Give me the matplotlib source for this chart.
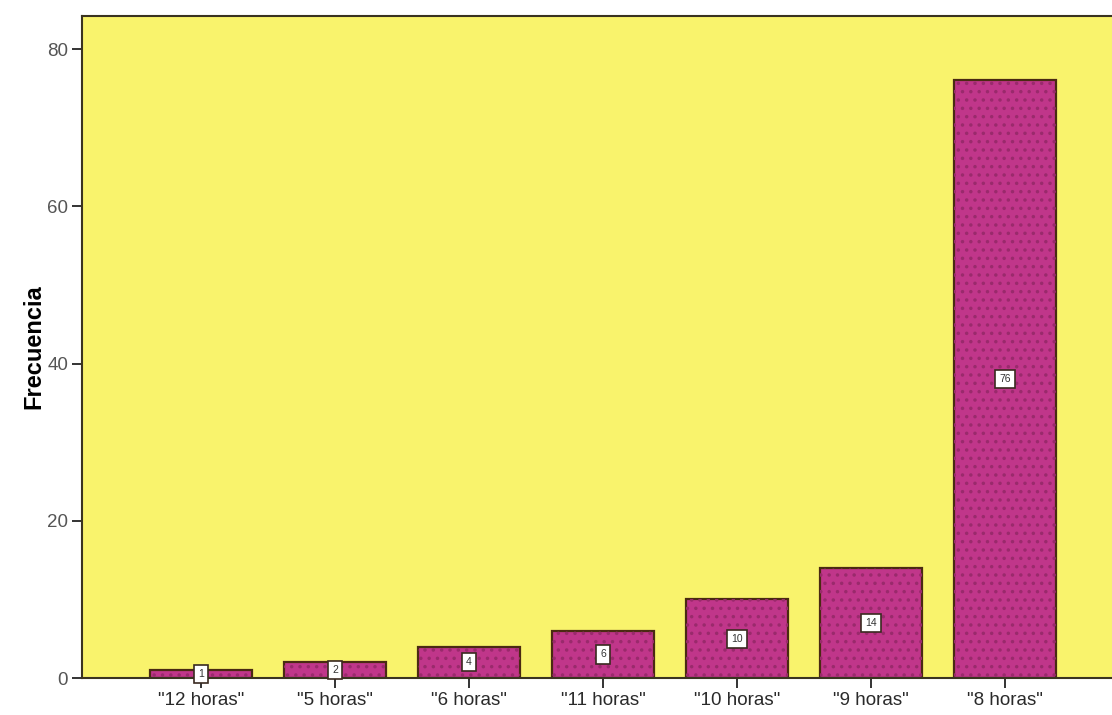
import numpy as np
import matplotlib.pyplot as plt

# datos
categorias = ['"12 horas"', '"5 horas"', '"6 horas"', '"11 horas"',
              '"10 horas"', '"9 horas"', '"8 horas"']
frecuencia = [1, 2, 4, 6, 10, 14, 76]
yticks = [0, 20, 40, 60, 80]

plt.rcParams['font.family'] = ['Liberation Sans', 'DejaVu Sans']
plt.rcParams['hatch.linewidth'] = 1.3

fig = plt.figure(figsize=(11.12, 7.15), dpi=100)
ax = fig.add_axes([0.0737, 0.0517, 0.9263, 0.9259])
ax.set_facecolor('#f9f36c')

x = np.arange(len(categorias))
ancho = 0.755

# relleno + borde
ax.bar(x, frecuencia, width=ancho, color='#c0368a',
       edgecolor='#4a2a12', linewidth=1.6, zorder=2)
# puntos del patron
ax.bar(x, frecuencia, width=ancho, color='none',
       edgecolor='#9a2a6c', linewidth=0, hatch='..', zorder=3)

for xi, v in zip(x, frecuencia):
    ax.text(xi, v / 2, str(v), ha='center', va='center', fontsize=7.5,
            color='#333333', zorder=5,
            bbox=dict(boxstyle='square,pad=0.4', fc='white',
                      ec='#3a2a20', lw=1.2))

ax.set_xlim(-0.888, 6.798)
ax.set_ylim(0, 84.2)
ax.set_xticks(x)
ax.set_xticklabels(categorias, fontsize=13.5, color='#2a2a2a')
ax.set_yticks(yticks)
ax.set_yticklabels([str(t) for t in yticks], fontsize=13.5, color='#555555')
ax.tick_params(axis='both', direction='out', length=7, width=1.4,
               color='#333333', pad=3)
ax.set_ylabel('Frecuencia', fontsize=17, fontweight='bold', labelpad=1)

for s in ['left', 'bottom', 'top']:
    ax.spines[s].set_color('#3a3320')
    ax.spines[s].set_linewidth(1.5)
ax.spines['right'].set_visible(False)

fig.savefig('out.png', dpi=100)
